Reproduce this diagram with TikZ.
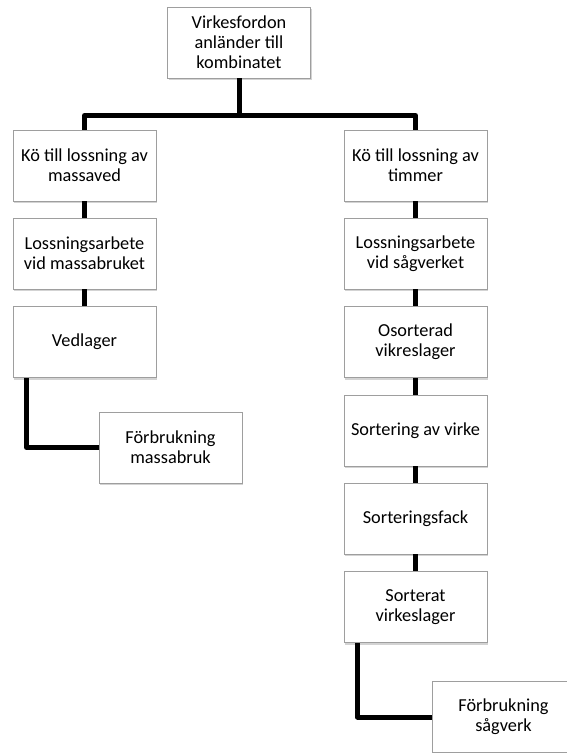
\documentclass[tikz,border=0pt]{standalone}
\usepackage{fontspec}
\setmainfont{Carlito}
\usetikzlibrary{shadows,calc}
\begin{document}
\begin{tikzpicture}[x=1pt,y=1pt,
  box/.style={draw=black!38, line width=0.9pt, fill=white, minimum width=143pt, minimum height=71pt,
    inner sep=1pt, align=center, font=\fontsize{18.3}{20}\selectfont,
    drop shadow={opacity=0.35, shadow xshift=1.2pt, shadow yshift=-2pt}},
  link/.style={line width=5pt, black, line join=round}]
\useasboundingbox (0,0) rectangle (566,-753);
\node[box] (top) at (239,-42.5) {Virkesfordon\\anländer till\\kombinatet};
\node[box] (l1) at (84.5,-165.5) {Kö till lossning av\\massaved};
\node[box] (r1) at (415.5,-165.5) {Kö till lossning av\\timmer};
\node[box] (l2) at (84.5,-253.5) {Lossningsarbete\\vid massabruket};
\node[box] (r2) at (415.5,-253.5) {Lossningsarbete\\vid sågverket};
\node[box] (l3) at (84.5,-342) {Vedlager};
\node[box] (r3) at (415.5,-342) {Osorterad\\vikreslager};
\node[box] (lf) at (170.5,-447.5) {Förbrukning\\massabruk};
\node[box] (r4) at (415.5,-430.5) {Sortering av virke};
\node[box] (r5) at (415.5,-518.5) {Sorteringsfack};
\node[box] (r6) at (415.5,-607) {Sorterat\\virkeslager};
\node[box] (rf) at (503.5,-717) {Förbrukning\\sågverk};
\coordinate (bar) at ($(top.south)+(0,-37)$);
\coordinate (lstart) at ($(l3.south west)+(14,0)$);
\coordinate (rstart) at ($(r6.south west)+(14,0)$);
\draw[link] (top.south) -- (bar);
\draw[link] (l1.north) |- (bar) -| (r1.north);
\draw[link] (l1) -- (l2);
\draw[link] (l2) -- (l3);
\draw[link] (lstart) |- (lf.west);
\draw[link] (r1) -- (r2);
\draw[link] (r2) -- (r3);
\draw[link] (r3) -- (r4);
\draw[link] (r4) -- (r5);
\draw[link] (r5) -- (r6);
\draw[link] (rstart) |- (rf.west);
\end{tikzpicture}
\end{document}
